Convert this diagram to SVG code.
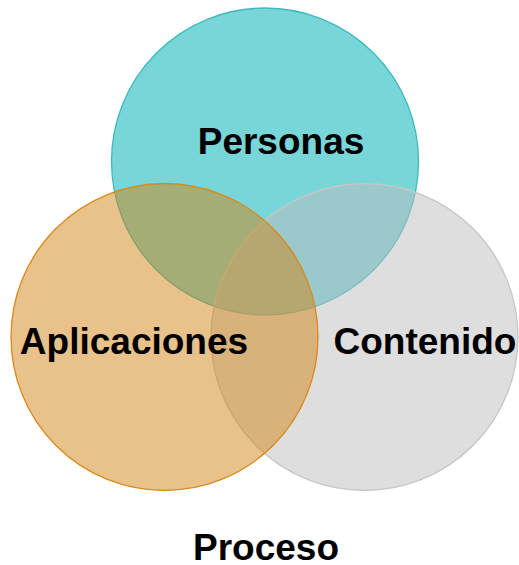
<svg xmlns="http://www.w3.org/2000/svg" width="519" height="565" viewBox="0 0 519 565">
<style>
.lbl{font-family:"Liberation Sans",Arial,sans-serif;font-weight:bold;font-size:37px;fill:#000;text-anchor:middle}
.c{stroke-width:1.3}
</style>
<rect width="519" height="565" fill="#fff"/>
<g id="personas">
<circle class="c" cx="265" cy="161.5" r="153.5" fill="#78D5D8" stroke="#3DBABD"/>
</g>
<g id="contenido">
<circle class="c" cx="364.5" cy="337" r="153.5" fill="#BDBDBD" fill-opacity="0.5" stroke="#C6C6C6"/>
</g>
<g id="aplicaciones">
<circle class="c" cx="164.5" cy="337" r="153.5" fill="#D28616" fill-opacity="0.5" stroke="#D88A1C"/>
</g>
<g id="connectors"></g>
<g id="labels">
<text class="lbl" x="281" y="154">Personas</text>
<text class="lbl" x="134" y="354">Aplicaciones</text>
<text class="lbl" x="425" y="354">Contenido</text>
<text class="lbl" x="266" y="560">Proceso</text>
</g>
</svg>
